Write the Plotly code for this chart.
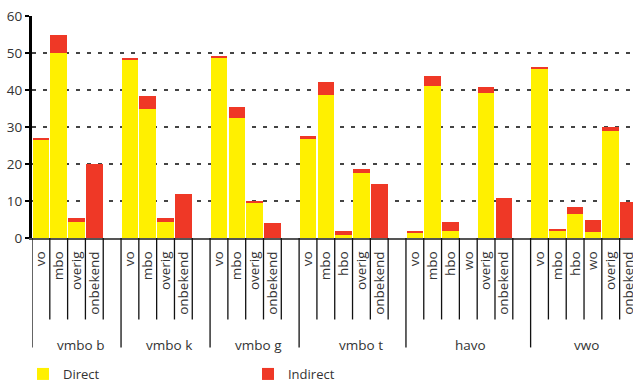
import plotly.graph_objects as go

groups = ["vmbo b", "vmbo k", "vmbo g", "vmbo t", "havo", "vwo"]
subcats = [
    ["vo", "mbo", "overig", "onbekend"],
    ["vo", "mbo", "overig", "onbekend"],
    ["vo", "mbo", "overig", "onbekend"],
    ["vo", "mbo", "hbo", "overig", "onbekend"],
    ["vo", "mbo", "hbo", "wo", "overig", "onbekend"],
    ["vo", "mbo", "hbo", "wo", "overig", "onbekend"],
]
direct = [
    [26.5, 50.1, 4.4, 0],
    [48.2, 34.8, 4.4, 0],
    [48.7, 32.5, 9.5, 0],
    [27.0, 38.8, 0.9, 17.7, 0],
    [1.4, 41.2, 2.0, 0, 39.3, 0],
    [45.8, 2.0, 6.4, 1.5, 29.0, 0],
]
indirect = [
    [0.6, 4.9, 1.0, 20.1],
    [0.5, 3.5, 1.0, 11.8],
    [0.5, 3.0, 0.4, 4.0],
    [0.5, 3.5, 1.1, 1.0, 14.7],
    [0.5, 2.6, 2.4, 0, 1.5, 10.8],
    [0.5, 0.4, 1.9, 3.4, 0.9, 9.8],
]
y_ticks = [0, 10, 20, 30, 40, 50, 60]

YELLOW = "#FFF000"
RED = "#EF3826"
FONT = "Open Sans"
TXT = "#333333"
# horizontal nudge of each group label (in slot units), as placed in the original
label_nudge = [0.2, 0.2, 0.2, 0.45, 0.12, -0.34]

# slot positions: one slot per sub-category, plus an empty slot after each group
xs, labels, d_vals, i_vals = [], [], [], []
group_starts, group_ends = [], []
pos = 0
for g, subs, dv, iv in zip(groups, subcats, direct, indirect):
    group_starts.append(pos)
    for s, a, b in zip(subs, dv, iv):
        xs.append(pos)
        labels.append(s)
        d_vals.append(a)
        i_vals.append(b)
        pos += 1
    group_ends.append(pos)  # index of gap slot
    pos += 1
last_slot = xs[-1]

fig = go.Figure()
fig.add_trace(go.Bar(x=xs, y=d_vals, name="Direct", marker=dict(color=YELLOW, line=dict(width=0))))
fig.add_trace(go.Bar(x=xs, y=i_vals, name="Indirect", marker=dict(color=RED, line=dict(width=0))))

shapes = []
SHORT = -0.367
LONG = -0.493
for gs, ge in zip(group_starts, group_ends):
    shapes.append(dict(type="line", xref="x", yref="paper", x0=gs - 0.5, x1=gs - 0.5,
                       y0=0, y1=LONG, line=dict(color="#111111", width=1.3)))
    for k in range(gs, ge):
        shapes.append(dict(type="line", xref="x", yref="paper", x0=k + 0.5, x1=k + 0.5,
                           y0=0, y1=SHORT, line=dict(color="#111111", width=1.3)))

annotations = []
for g, gs, ge, nd in zip(groups, group_starts, group_ends, label_nudge):
    annotations.append(dict(text=g, xref="x", yref="paper", x=(gs - 0.5 + ge + 0.5) / 2 + nd,
                            y=-0.48, showarrow=False, xanchor="center", yanchor="middle",
                            font=dict(family=FONT, size=13.5, color=TXT)))

fig.update_layout(
    width=633, height=383,
    margin=dict(l=32, r=0, t=16, b=145, autoexpand=False),
    plot_bgcolor="white", paper_bgcolor="white",
    barmode="stack", bargap=0.07,
    font=dict(family=FONT, size=13.5, color=TXT),
    shapes=shapes, annotations=annotations,
    showlegend=True,
    legend=dict(orientation="h", x=-0.015, xanchor="left", y=-0.545, yanchor="top",
                traceorder="normal",
                entrywidth=180, entrywidthmode="pixels",
                font=dict(family=FONT, size=13, color=TXT),
                bgcolor="rgba(0,0,0,0)"),
    xaxis=dict(range=[-0.5, last_slot + 0.25], tickmode="array", tickvals=xs, ticktext=labels,
               tickangle=-90, ticks="", showgrid=False, zeroline=False, automargin=False,
               ticklabeloverflow="allow",
               showline=True, linecolor="#555555", linewidth=2,
               ticklabelstandoff=6, tickfont=dict(family=FONT, size=13.5, color=TXT)),
    yaxis=dict(range=[0, 60.05], tickmode="array", tickvals=y_ticks, automargin=False,
               ticklabeloverflow="allow",
               showgrid=True, gridcolor="#444444", gridwidth=1.5, griddash="4px,7px",
               zeroline=False, showline=True, linecolor="#000000", linewidth=3,
               ticks="outside", ticklen=4, tickcolor="#000000", tickwidth=1.5,
               tickfont=dict(family=FONT, size=13.5, color=TXT)),
)

fig.write_html("out.html", config={"displayModeBar": False},
               post_script="document.body.style.margin='0px';")
